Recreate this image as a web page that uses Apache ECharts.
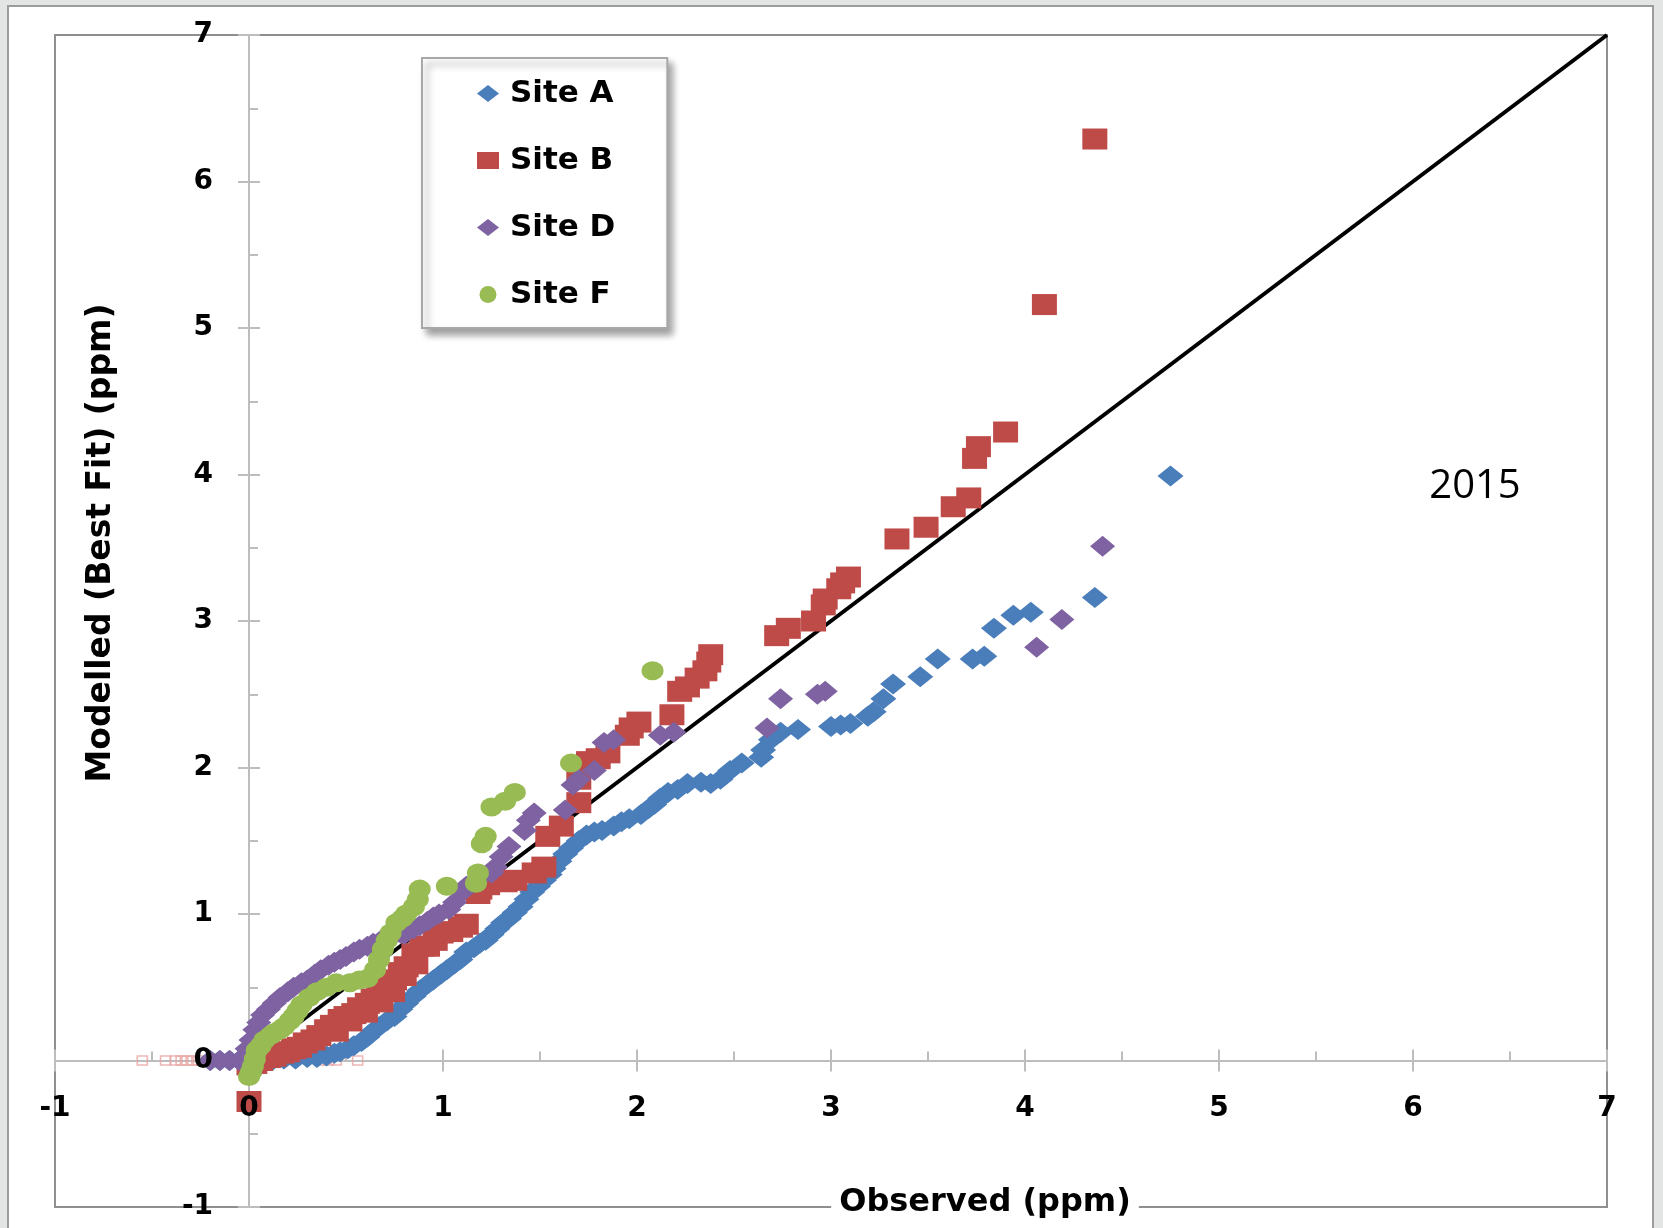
<!DOCTYPE html>
<html>
<head>
<meta charset="utf-8">
<title>Modelled vs Observed 2015</title>
<script src="https://cdn.jsdelivr.net/npm/echarts@6/dist/echarts.min.js"></script>
<style>
  html, body { margin: 0; padding: 0; width: 1663px; height: 1228px; overflow: hidden; background: #e3e4e4; }
  #sheet { position: absolute; left: 7px; top: 5px; width: 1647px; height: 1223px; background: #fff;
           border-left: 2px solid #9c9c9c; border-top: 2px solid #9c9c9c; border-right: 2px solid #9c9c9c; box-sizing: border-box; }
  #chart { position: absolute; left: 0; top: 0; width: 1663px; height: 1228px; }
</style>
</head>
<body>
<div id="sheet"></div>
<div id="chart"></div>
<script>
// Observed vs modelled concentrations (ppm), one array of [observed, modelled] per site
const siteA = [
  [-0.2,0],[-0.15,0],[-0.1,0],[-0.05,0],[0,0],[0.05,0],[0.12,0],[0.18,0.01],[0.24,0.01],[0.3,0.02],
  [0.35,0.02],[0.4,0.03],[0.44,0.05],[0.47,0.06],[0.51,0.08],[0.54,0.1],[0.58,0.13],[0.61,0.16],
  [0.64,0.2],[0.67,0.23],[0.71,0.27],[0.75,0.3],[0.78,0.35],[0.81,0.39],[0.85,0.44],[0.88,0.48],
  [0.92,0.52],[0.95,0.55],[0.99,0.59],[1.02,0.62],[1.06,0.66],[1.09,0.69],[1.12,0.74],[1.16,0.77],
  [1.19,0.8],[1.22,0.82],[1.25,0.86],[1.28,0.9],[1.31,0.94],[1.34,0.97],[1.37,1.01],[1.4,1.05],
  [1.43,1.1],[1.46,1.15],[1.49,1.19],[1.52,1.23],[1.55,1.27],[1.57,1.31],[1.6,1.36],[1.63,1.41],
  [1.66,1.45],[1.7,1.5],[1.74,1.54],[1.78,1.56],[1.82,1.57],[1.88,1.6],[1.92,1.63],[1.96,1.65],
  [2.02,1.68],[2.06,1.72],[2.09,1.75],[2.12,1.79],[2.16,1.83],[2.21,1.85],[2.26,1.89],[2.33,1.9],
  [2.38,1.89],[2.43,1.92],[2.48,1.98],[2.54,2.03],[2.64,2.07],[2.65,2.12],[2.69,2.19],[2.74,2.24],
  [2.83,2.26],[3.0,2.28],[3.05,2.29],[3.1,2.3],[3.19,2.35],[3.22,2.38],[3.27,2.47],[3.32,2.57],
  [3.46,2.62],[3.55,2.74],[3.73,2.74],[3.79,2.76],[3.84,2.95],[3.94,3.04],[4.03,3.06],[4.36,3.16],
  [4.75,3.99]
];
const siteB = [
  [0,-0.28],[0,-0.03],[0.03,-0.02],[0.06,0],[0.1,0.02],[0.13,0.03],[0.17,0.05],[0.2,0.06],[0.23,0.08],
  [0.26,0.09],[0.29,0.12],[0.33,0.14],[0.36,0.17],[0.4,0.21],[0.43,0.24],[0.45,0.2],[0.47,0.28],
  [0.5,0.3],[0.52,0.27],[0.54,0.32],[0.57,0.36],[0.6,0.33],[0.61,0.39],[0.64,0.42],[0.67,0.46],
  [0.68,0.4],[0.71,0.5],[0.74,0.47],[0.75,0.55],[0.78,0.6],[0.8,0.58],[0.81,0.64],[0.85,0.73],
  [0.86,0.66],[0.89,0.78],[0.92,0.78],[0.96,0.82],[0.99,0.87],[1.04,0.88],[1.09,0.91],[1.12,0.93],
  [1.18,1.14],[1.19,1.17],[1.23,1.2],[1.32,1.22],[1.37,1.23],[1.47,1.28],[1.52,1.32],[1.54,1.53],
  [1.61,1.6],[1.7,1.76],[1.7,1.92],[1.75,2.04],[1.8,2.06],[1.85,2.1],[1.95,2.22],[1.97,2.27],
  [2.01,2.31],[2.18,2.36],[2.22,2.52],[2.26,2.55],[2.31,2.61],[2.35,2.66],[2.37,2.72],[2.38,2.77],
  [2.72,2.9],[2.78,2.95],[2.91,3.0],[2.96,3.11],[2.97,3.15],[3.04,3.22],[3.06,3.26],[3.09,3.3],
  [3.34,3.56],[3.49,3.64],[3.63,3.78],[3.71,3.84],[3.74,4.11],[3.76,4.19],[3.9,4.29],[4.1,5.16],
  [4.36,6.29]
];
const siteD = [
  [-0.2,0],[-0.15,0],[-0.1,0],[-0.05,0],[-0.03,0.02],[-0.01,0.08],[0.01,0.14],[0.03,0.21],[0.05,0.26],
  [0.07,0.31],[0.1,0.35],[0.13,0.39],[0.16,0.43],[0.2,0.47],[0.23,0.5],[0.27,0.53],[0.3,0.55],
  [0.34,0.59],[0.37,0.62],[0.41,0.65],[0.44,0.67],[0.47,0.69],[0.5,0.71],[0.54,0.74],[0.57,0.76],
  [0.61,0.78],[0.64,0.8],[0.68,0.82],[0.71,0.84],[0.75,0.86],[0.78,0.87],[0.8,0.86],[0.85,0.9],
  [0.88,0.92],[0.92,0.95],[0.95,0.98],[0.98,1.0],[1.03,1.03],[1.06,1.08],[1.1,1.15],[1.12,1.19],
  [1.16,1.22],[1.2,1.26],[1.25,1.28],[1.27,1.32],[1.3,1.39],[1.34,1.46],[1.42,1.57],[1.44,1.64],
  [1.47,1.69],[1.63,1.71],[1.67,1.88],[1.7,1.92],[1.78,1.98],[1.83,2.17],[1.88,2.19],[2.12,2.22],
  [2.19,2.24],[2.67,2.27],[2.74,2.47],[2.93,2.5],[2.97,2.52],[4.06,2.82],[4.19,3.01],[4.4,3.51]
];
const siteF = [
  [0,-0.11],[0.01,-0.08],[0.02,-0.04],[0.03,0.01],[0.04,0.07],[0.06,0.1],[0.08,0.14],[0.11,0.17],
  [0.13,0.19],[0.16,0.21],[0.18,0.23],[0.21,0.27],[0.23,0.3],[0.25,0.34],[0.27,0.38],[0.31,0.43],
  [0.35,0.47],[0.4,0.5],[0.45,0.53],[0.52,0.53],[0.57,0.55],[0.61,0.56],[0.65,0.62],[0.67,0.69],
  [0.69,0.76],[0.71,0.82],[0.73,0.87],[0.76,0.94],[0.79,0.97],[0.81,1.0],[0.85,1.05],[0.87,1.1],
  [0.88,1.17],[1.02,1.19],[1.17,1.21],[1.18,1.28],[1.2,1.48],[1.22,1.53],[1.25,1.73],[1.32,1.77],
  [1.37,1.83],[1.66,2.03],[2.08,2.66]
];
// Faint zero-valued markers along the observed axis
const zeroMarks = [
  [-0.55,0],[-0.43,0],[-0.38,0],[-0.35,0],[-0.32,0],[-0.29,0],[-0.26,0],
  [0.37,0],[0.41,0],[0.45,0],[0.56,0]
];
// 1:1 reference line
const oneToOne = [[0,0],[7,7]];

const axisMin = -1, axisMax = 7, axisStep = 1;
const siteNames = ['Site A', 'Site B', 'Site D', 'Site F'];
const siteColors = ['#4A7EBB', '#BE4B48', '#7E62A1', '#98BB53'];
const yearLabel = '2015';
const xTitle = 'Observed (ppm)';
const yTitle = 'Modelled (Best Fit) (ppm)';

const BOLD = '"DejaVu Sans", sans-serif';
const axisGrey = '#bdbdbd';
const plotBox = { left: 55, right: 56, top: 35, bottom: 21 };

// The axes cross at the origin: shift each axis from the plot edge to the zero line.
const plotW = 1663 - plotBox.left - plotBox.right;
const plotH = 1228 - plotBox.top - plotBox.bottom;
const yAxisShift = -plotW * (0 - axisMin) / (axisMax - axisMin);
const xAxisShift = -plotH * (0 - axisMin) / (axisMax - axisMin);

// kind: 'labels' (tick numbers drawn above the markers), 'inner' (inward + minor ticks), 'outer' (outward ticks)
function axisFor(kind, pos, shift) {
  const tickLine = { color: axisGrey, width: 2 };
  return {
    type: 'value', gridIndex: 0, position: pos, offset: shift,
    min: axisMin, max: axisMax, interval: axisStep,
    z: kind === 'labels' ? 10 : 0,
    axisLine: { show: kind === 'inner', onZero: false, lineStyle: { color: axisGrey, width: 2 } },
    axisTick: { show: kind !== 'labels', inside: kind === 'inner', length: 11, lineStyle: tickLine },
    minorTick: { show: kind === 'inner', splitNumber: 2, length: 9, lineStyle: tickLine },
    splitLine: { show: false },
    axisLabel: { show: kind === 'labels', fontFamily: BOLD, fontWeight: 'bold', fontSize: 28, color: '#000',
                 showMinLabel: true, showMaxLabel: true, margin: pos === 'bottom' ? 34 : 36 }
  };
}

function scatter(name, data, symbol, size, color, z) {
  return {
    name, type: 'scatter', data, symbol, symbolSize: size, xAxisIndex: 0, yAxisIndex: 0, z,
    itemStyle: { color: color, opacity: 1 },
    emphasis: { disabled: true }
  };
}

const chart = echarts.init(document.getElementById('chart'), null, { renderer: 'canvas' });
chart.setOption({
  animation: false,
  backgroundColor: 'transparent',
  grid: Object.assign({ show: true, borderColor: '#8f8f8f', borderWidth: 2, containLabel: false, outerBoundsMode: 'none' }, plotBox),
  legend: {
    orient: 'vertical', left: 422, top: 58,
    data: [
      { name: siteNames[0], icon: 'diamond' },
      { name: siteNames[1], icon: 'rect' },
      { name: siteNames[2], icon: 'diamond' },
      { name: siteNames[3], icon: 'circle' }
    ],
    itemWidth: 22, itemHeight: 17, itemGap: 30,
    padding: [17, 52, 15, 55],
    backgroundColor: '#fff', borderColor: '#a8a8a8', borderWidth: 2,
    shadowBlur: 7, shadowColor: 'rgba(0,0,0,0.38)', shadowOffsetX: 5, shadowOffsetY: 6,
    textStyle: { fontFamily: BOLD, fontWeight: 'bold', fontSize: 31, color: '#000', lineHeight: 37, padding: [0, 0, 0, 6] },
    selectedMode: false
  },
  xAxis: [axisFor('labels', 'bottom', xAxisShift), axisFor('inner', 'bottom', xAxisShift), axisFor('outer', 'bottom', xAxisShift)],
  yAxis: [axisFor('labels', 'left', yAxisShift), axisFor('inner', 'left', yAxisShift), axisFor('outer', 'left', yAxisShift)],
  series: [
    { name: '1:1', type: 'line', data: oneToOne, symbol: 'none', z: 1, silent: true,
      lineStyle: { color: '#000', width: 4 }, xAxisIndex: 0, yAxisIndex: 0 },
    { name: 'zero', type: 'scatter', data: zeroMarks, symbol: 'rect', symbolSize: [10, 9], z: 1, silent: true,
      itemStyle: { color: 'rgba(255,255,255,0)', borderColor: '#eaa3a3', borderWidth: 1.5, opacity: 0.8 } },
    scatter(siteNames[0], siteA, 'diamond', [26, 21], siteColors[0], 2),
    scatter(siteNames[1], siteB, 'rect', [25, 21], siteColors[1], 3),
    scatter(siteNames[2], siteD, 'diamond', [25, 21], siteColors[2], 4),
    scatter(siteNames[3], siteF, 'circle', [22, 19], siteColors[3], 5)
  ],
  graphic: [
    { type: 'text', x: 101, y: 543, rotation: Math.PI / 2, z: 100,
      style: { text: yTitle, font: 'bold 33px "DejaVu Sans"', fill: '#000', align: 'center', verticalAlign: 'middle' } },
    { type: 'text', x: 985, y: 1203, z: 100,
      style: { text: xTitle, font: 'bold 32px "DejaVu Sans"', fill: '#000', align: 'center', verticalAlign: 'middle',
               backgroundColor: '#fff', padding: [2, 8] } },
    { type: 'text', x: 1475, y: 487, z: 100,
      style: { text: yearLabel, font: '40px "Open Sans"', fill: '#000', align: 'center', verticalAlign: 'middle' } }
  ]
});
</script>
</body>
</html>
